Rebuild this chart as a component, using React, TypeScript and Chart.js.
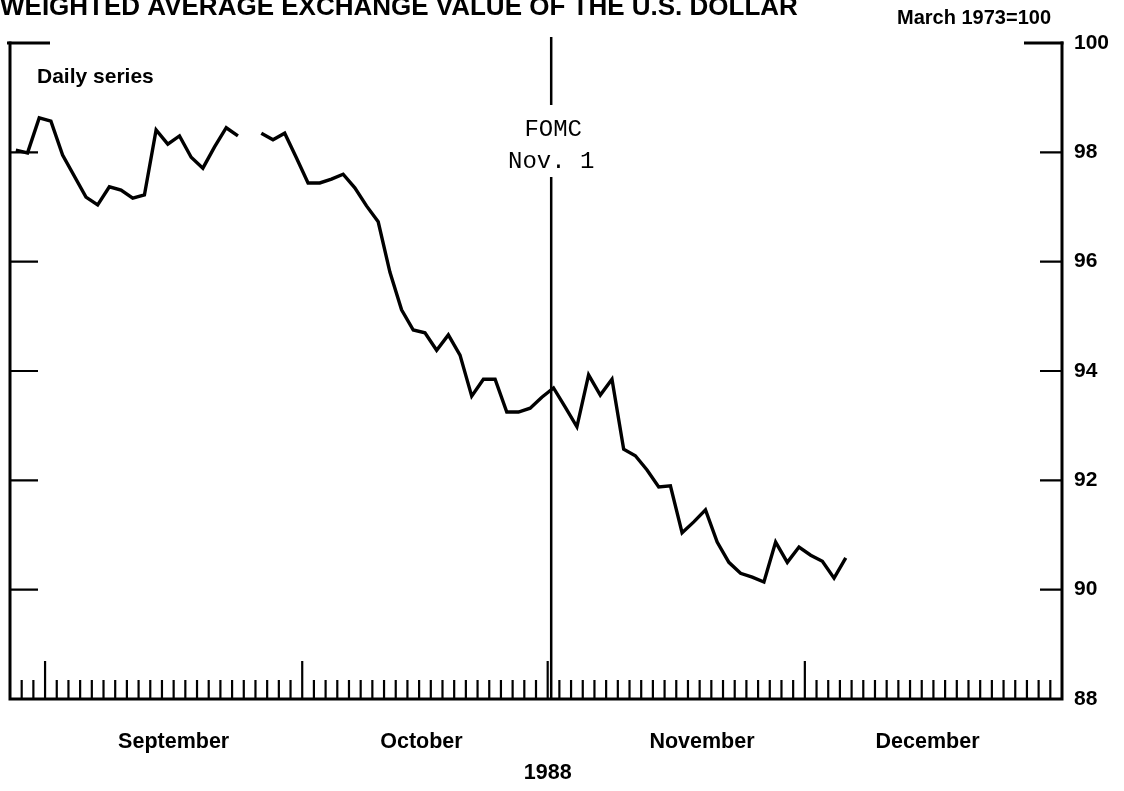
import React, { useEffect, useRef } from "react";
import { Chart, registerables } from "chart.js";

Chart.register(...registerables);

// ---- Data ----
const titleText = "WEIGHTED AVERAGE EXCHANGE VALUE OF THE U.S. DOLLAR";
const unitLabel = "March 1973=100";
const seriesLabel = "Daily series";
const yearLabel = "1988";

// weekday slots on the x axis (Aug 29 .. Dec 30, 1988)
const weekdayCount = 90;
const monthStarts = [3, 25, 46, 68];
const monthNames = ["September", "October", "November", "December"];
const monthLabelPos = [14.0, 35.2, 59.2, 78.5];
const yearLabelPos = 46.0;

// value per weekday slot; null = no observation
const dollarIndex: (number | null)[] = [
  98.04, 97.99, 98.63, 98.57, 97.95, null, 97.18, 97.04, 97.37, 97.31,
  97.16, 97.22, 98.41, 98.15, 98.3, 97.91, 97.71, 98.1, 98.45, 98.3,
  null, 98.35, 98.23, 98.35, 97.9, 97.44, 97.44, 97.51, 97.6, 97.35,
  97.02, 96.73, 95.81, 95.12, 94.75, 94.7, 94.38, 94.66, 94.29, 93.54,
  93.85, 93.85, 93.25, 93.25, 93.32, 93.52, 93.69, 93.34, 92.98, 93.93,
  93.56, 93.85, 92.57, 92.45, 92.19, 91.88, 91.9, 91.04, 91.24, 91.46,
  90.87, 90.5, 90.3, 90.23, 90.14, 90.87, 90.5, 90.78, 90.63, 90.52,
  90.21, 90.58,
];
// market holidays: line is bridged across these slots
const holidaySlots = [5];

const fomcSlot = 46.3;
const fomcLines = ["FOMC", "Nov. 1"];

const yMin = 88;
const yMax = 100;
const yStep = 2;

const SANS = '"Liberation Sans", Arial, Helvetica, sans-serif';
const MONO = '"Courier New", "Liberation Mono", monospace';

const decorPlugin = {
  id: "decor",
  afterDraw(chart: any) {
    const { ctx, chartArea, scales } = chart;
    const { left, right, top, bottom } = chartArea;
    const x = scales.x;
    const y = scales.y;
    ctx.save();
    ctx.strokeStyle = "#000";
    ctx.fillStyle = "#000";
    ctx.lineCap = "butt";

    // frame: left, bottom, right
    ctx.lineWidth = 3;
    ctx.beginPath();
    ctx.moveTo(left, top - 1.5);
    ctx.lineTo(left, bottom);
    ctx.lineTo(right, bottom);
    ctx.lineTo(right, top - 1.5);
    ctx.stroke();

    // top ticks (100)
    const pTop = y.getPixelForValue(yMax);
    ctx.beginPath();
    ctx.moveTo(left - 3, pTop);
    ctx.lineTo(left + 40, pTop);
    ctx.moveTo(right - 38, pTop);
    ctx.lineTo(right + 1.5, pTop);
    ctx.stroke();

    // y ticks
    ctx.lineWidth = 2.2;
    ctx.beginPath();
    for (let v = yMin + yStep; v < yMax; v += yStep) {
      const py = y.getPixelForValue(v);
      ctx.moveTo(left, py);
      ctx.lineTo(left + 28, py);
      ctx.moveTo(right - 22, py);
      ctx.lineTo(right, py);
    }
    ctx.stroke();

    // x ticks (weekdays)
    ctx.lineWidth = 2.2;
    ctx.beginPath();
    for (let i = 1; i < weekdayCount; i++) {
      const px = x.getPixelForValue(i);
      const len = monthStarts.includes(i) ? 38 : 19;
      ctx.moveTo(px, bottom);
      ctx.lineTo(px, bottom - len);
    }
    ctx.stroke();

    // FOMC marker
    const fx = x.getPixelForValue(fomcSlot);
    ctx.lineWidth = 2.5;
    ctx.beginPath();
    ctx.moveTo(fx, 37);
    ctx.lineTo(fx, 105);
    ctx.moveTo(fx, 177);
    ctx.lineTo(fx, bottom);
    ctx.stroke();
    ctx.font = `24px ${MONO}`;
    ctx.textAlign = "center";
    ctx.textBaseline = "middle";
    ctx.fillText(fomcLines[0], fx + 2, 130);
    ctx.fillText(fomcLines[1], fx, 162);

    // texts
    ctx.font = `bold 26px ${SANS}`;
    ctx.textAlign = "left";
    ctx.textBaseline = "alphabetic";
    ctx.fillText(titleText, 0, 15);

    ctx.font = `bold 20px ${SANS}`;
    ctx.textAlign = "right";
    ctx.textBaseline = "middle";
    ctx.fillText(unitLabel, 1051, 18);

    ctx.font = `bold 21px ${SANS}`;
    ctx.textAlign = "left";
    ctx.fillText(seriesLabel, 37, 77);

    ctx.font = `bold 21.5px ${SANS}`;
    ctx.textAlign = "center";
    monthNames.forEach((m, i) => {
      ctx.fillText(m, x.getPixelForValue(monthLabelPos[i]), 742);
    });
    ctx.fillText(yearLabel, x.getPixelForValue(yearLabelPos), 773);

    ctx.restore();
  },
};

export default function App() {
  const ref = useRef<HTMLCanvasElement | null>(null);
  useEffect(() => {
    if (!ref.current) return;
    const points: { x: number; y: number | null }[] = [];
    dollarIndex.forEach((v, i) => {
      if (holidaySlots.includes(i)) return;
      points.push({ x: i + 0.5, y: v });
    });
    const chart = new Chart(ref.current, {
      type: "line",
      data: {
        datasets: [
          {
            data: points as any,
            borderColor: "#000",
            borderWidth: 3.4,
            pointRadius: 0,
            tension: 0,
            spanGaps: false,
            borderJoinStyle: "miter",
          },
        ],
      },
      options: {
        responsive: false,
        animation: false,
        layout: { padding: { left: 10, top: 43, bottom: 92, right: 0 } },
        plugins: {
          legend: { display: false },
          tooltip: { enabled: false },
          title: { display: false },
        },
        scales: {
          x: {
            type: "linear",
            min: 0,
            max: weekdayCount,
            display: false,
          },
          y: {
            type: "linear",
            position: "right",
            min: yMin,
            max: yMax,
            grid: { display: false, drawTicks: false },
            border: { display: false },
            ticks: {
              stepSize: yStep,
              color: "#000",
              padding: 12,
              font: { family: SANS, size: 21, weight: "bold" },
            },
            afterFit: (s: any) => {
              s.width = 62;
            },
          },
        },
      },
      plugins: [decorPlugin],
    });
    return () => chart.destroy();
  }, []);
  return (
    <div
      style={{
        position: "fixed",
        left: 0,
        top: 0,
        width: 1124,
        height: 791,
        background: "#fff",
      }}
    >
      <canvas ref={ref} width={1124} height={791} style={{ width: 1124, height: 791, display: "block" }} />
    </div>
  );
}
